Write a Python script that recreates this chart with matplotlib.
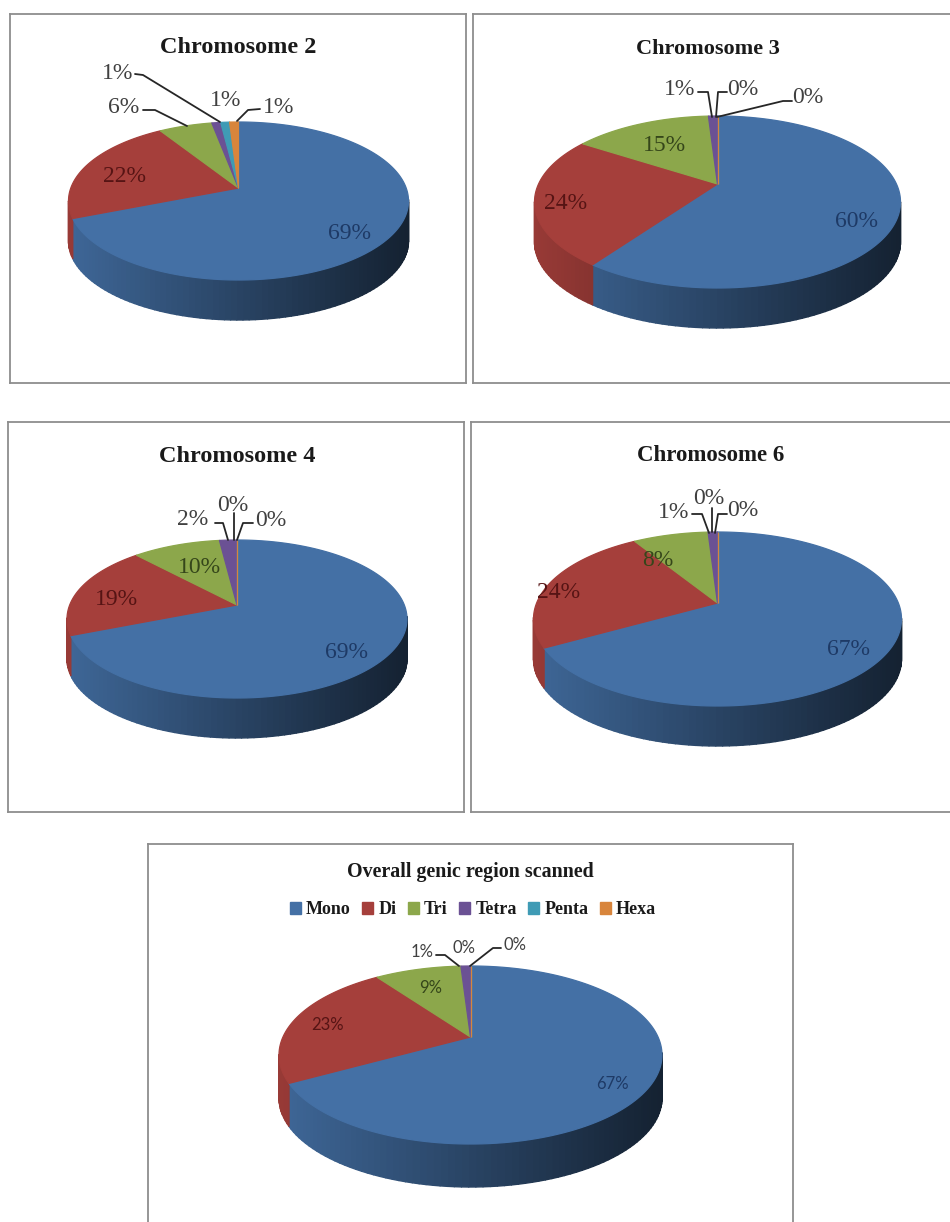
import numpy as np
import matplotlib
matplotlib.use('Agg')
import matplotlib.pyplot as plt
from matplotlib.collections import PolyCollection
from matplotlib.colors import to_rgb
from matplotlib.patches import Patch, Polygon

repeatTypes = ['Mono', 'Di', 'Tri', 'Tetra', 'Penta', 'Hexa']
colors = ['#4470A5', '#A53F3B', '#8CA74B', '#6B5194', '#3F9BB5', '#D8853C']
textColors = ['#1E3A66', '#561414', '#35461A', '#404040', '#404040', '#404040']

titles = ['Chromosome 2', 'Chromosome 3', 'Chromosome 4', 'Chromosome 6',
          'Overall genic region scanned']
chr2 = [69, 22, 6, 1, 1, 1]
chr3 = [60, 24, 15, 1, 0, 0]
chr4 = [69, 19, 10, 2, 0, 0]
chr6 = [67, 24, 8, 1, 0, 0]
overall = [67, 23, 9, 1, 0, 0]

W, H = 950, 1222

# everything below is in figure pixels, y pointing down
boxes = [(10, 14, 466, 383), (473, 14, 953, 383), (8, 422, 464, 812),
         (471, 422, 953, 812), (148, 844, 793, 1240)]
# cx, top, bottom of top face, rx, apex y, side depth
pies = [(238.5, 122, 280, 170, 188, 40), (717.5, 116, 288, 183, 184, 40),
        (237, 540, 698, 170, 605, 40), (717.5, 532, 706, 184, 603, 40),
        (470.5, 966, 1144, 191.5, 1037, 43)]
titleSpots = [(238, 45), (708, 46), (237, 454), (711, 453), (470, 870)]
titleSizes = [17.5, 16, 17.5, 16.5, 14.4]
labelSpots = [
    [(350, 231), (125, 174), (124, 105), (118, 71), (226, 98), (279, 105)],
    [(856, 219), (566, 201), (664, 143), (680, 87), (743, 87), (808, 95)],
    [(346, 650), (116, 597), (199, 565), (193, 517), (233, 503), (271, 518)],
    [(849, 647), (559, 590), (658, 558), (674, 510), (709, 496), (743, 508)],
    [(612, 1083), (328, 1024), (431, 987), (422, 951), (464, 947), (515, 944)],
]
leaders = [
    [[(135, 74), (143, 75), (220, 122)], [(143, 110), (155, 110), (187, 126)],
     [(260, 109), (248, 110), (237, 121)]],
    [[(698, 92), (708, 92), (712, 117)], [(727, 92), (718, 92), (716, 117)],
     [(792, 101), (783, 101), (717, 117)]],
    [[(215, 523), (223, 523), (228, 540)], [(234, 513), (234, 540)],
     [(253, 523), (243, 523), (237, 540)]],
    [[(692, 514), (702, 514), (709, 533)], [(712, 508), (712, 532)],
     [(727, 514), (718, 514), (715, 533)]],
    [[(436, 955), (445, 955), (459, 966)],
     [(501, 948), (493, 948), (470, 966)]],
]


def rimPoints(theta, pie):
    # theta is clockwise from 12 o'clock; the apex sits above the rim ellipse centre
    cx, top, bottom, rx, apexY, depth = pie
    cy = (top + bottom) / 2
    ry = (bottom - top) / 2
    py = (apexY - cy) / ry
    dx, dy = np.sin(theta), -np.cos(theta)
    b = py * dy
    t = -b + np.sqrt(b * b - (py * py - 1))
    ux, uy = t * dx, py + t * dy
    return cx + rx * ux, cy + ry * uy, uy


def drawPie(ax, values, pie):
    apexX, apexY = pie[0], pie[4]
    rx, depth = pie[3], pie[5]
    left = pie[0] - rx
    edges = np.cumsum([0] + values) / sum(values) * 2 * np.pi

    # side wall first: strips that overlap a little, darker towards the right
    for i, color in enumerate(colors):
        if values[i] == 0:
            continue
        theta = np.linspace(edges[i], edges[i + 1], 2 + values[i] * 2)
        x, y, uy = rimPoints(theta, pie)
        strips, shades = [], []
        for j in range(len(theta) - 1):
            if uy[j] < 0 and uy[j + 1] < 0:
                continue
            strips.append([(x[j], y[j]), (x[j + 1], y[j + 1]),
                           (x[j + 1], y[j + 1] + depth), (x[j], y[j] + depth)])
            f = 0.92 - 0.62 * (x[j] - left) / (2 * rx)
            shades.append(tuple(c * f for c in to_rgb(color)))
        if strips:
            ax.add_collection(PolyCollection(strips, facecolors=shades,
                                             edgecolors=shades, linewidths=1.0))

    # top face
    for i, color in enumerate(colors):
        theta = np.linspace(edges[i], edges[i + 1], 200)
        x, y, uy = rimPoints(theta, pie)
        pts = [(apexX, apexY)] + list(zip(x, y))
        ax.add_patch(Polygon(pts, closed=True, facecolor=color, edgecolor=color,
                             linewidth=0.9, joinstyle='round'))


def drawPanel(fig, n, values, serif=True):
    x0, y0, x1, y1 = boxes[n]
    ax = fig.add_axes([x0 / W, 1 - y1 / H, (x1 - x0) / W, (y1 - y0) / H])
    ax.set_xlim(x0, x1)
    ax.set_ylim(y1, y0)
    ax.set_xticks([])
    ax.set_yticks([])
    for s in ax.spines.values():
        s.set_color('#8E8E8E')
        s.set_linewidth(1.3)

    drawPie(ax, values, pies[n])

    for line in leaders[n]:
        xs, ys = zip(*line)
        ax.plot(xs, ys, color='#262626', lw=1.3, solid_capstyle='round')

    family = 'Liberation Serif' if serif else 'Lato'
    size = 17 if serif else 12
    for i, v in enumerate(values):
        lx, ly = labelSpots[n][i]
        # labels outside the pie are grey whatever the slice colour
        color = '#404040' if ly < pies[n][1] else textColors[i]
        ax.text(lx, ly, '%d%%' % v, family=family, fontsize=size,
                color=color, ha='center', va='center_baseline')

    tx, ty = titleSpots[n]
    ax.text(tx, ty, titles[n], family='Liberation Serif', weight='bold',
            fontsize=titleSizes[n], color='#1A1A1A',
            ha='center', va='center_baseline')
    return ax


def main():
    fig = plt.figure(figsize=(W / 100, H / 100), dpi=100)
    for n, values in enumerate([chr2, chr3, chr4, chr6]):
        drawPanel(fig, n, values)
    ax = drawPanel(fig, 4, overall, serif=False)

    handles = [Patch(facecolor=c, edgecolor=c) for c in colors]
    ax.legend(handles, repeatTypes, ncol=6, frameon=False, loc='center',
              bbox_to_anchor=(473, 910), bbox_transform=ax.transData,
              prop={'family': 'Liberation Serif', 'weight': 'bold', 'size': 13},
              handlelength=0.6, handleheight=0.6, handletextpad=0.3,
              columnspacing=0.63, labelcolor='#1A1A1A')

    fig.savefig('out.png', dpi=100)


if __name__ == '__main__':
    main()
